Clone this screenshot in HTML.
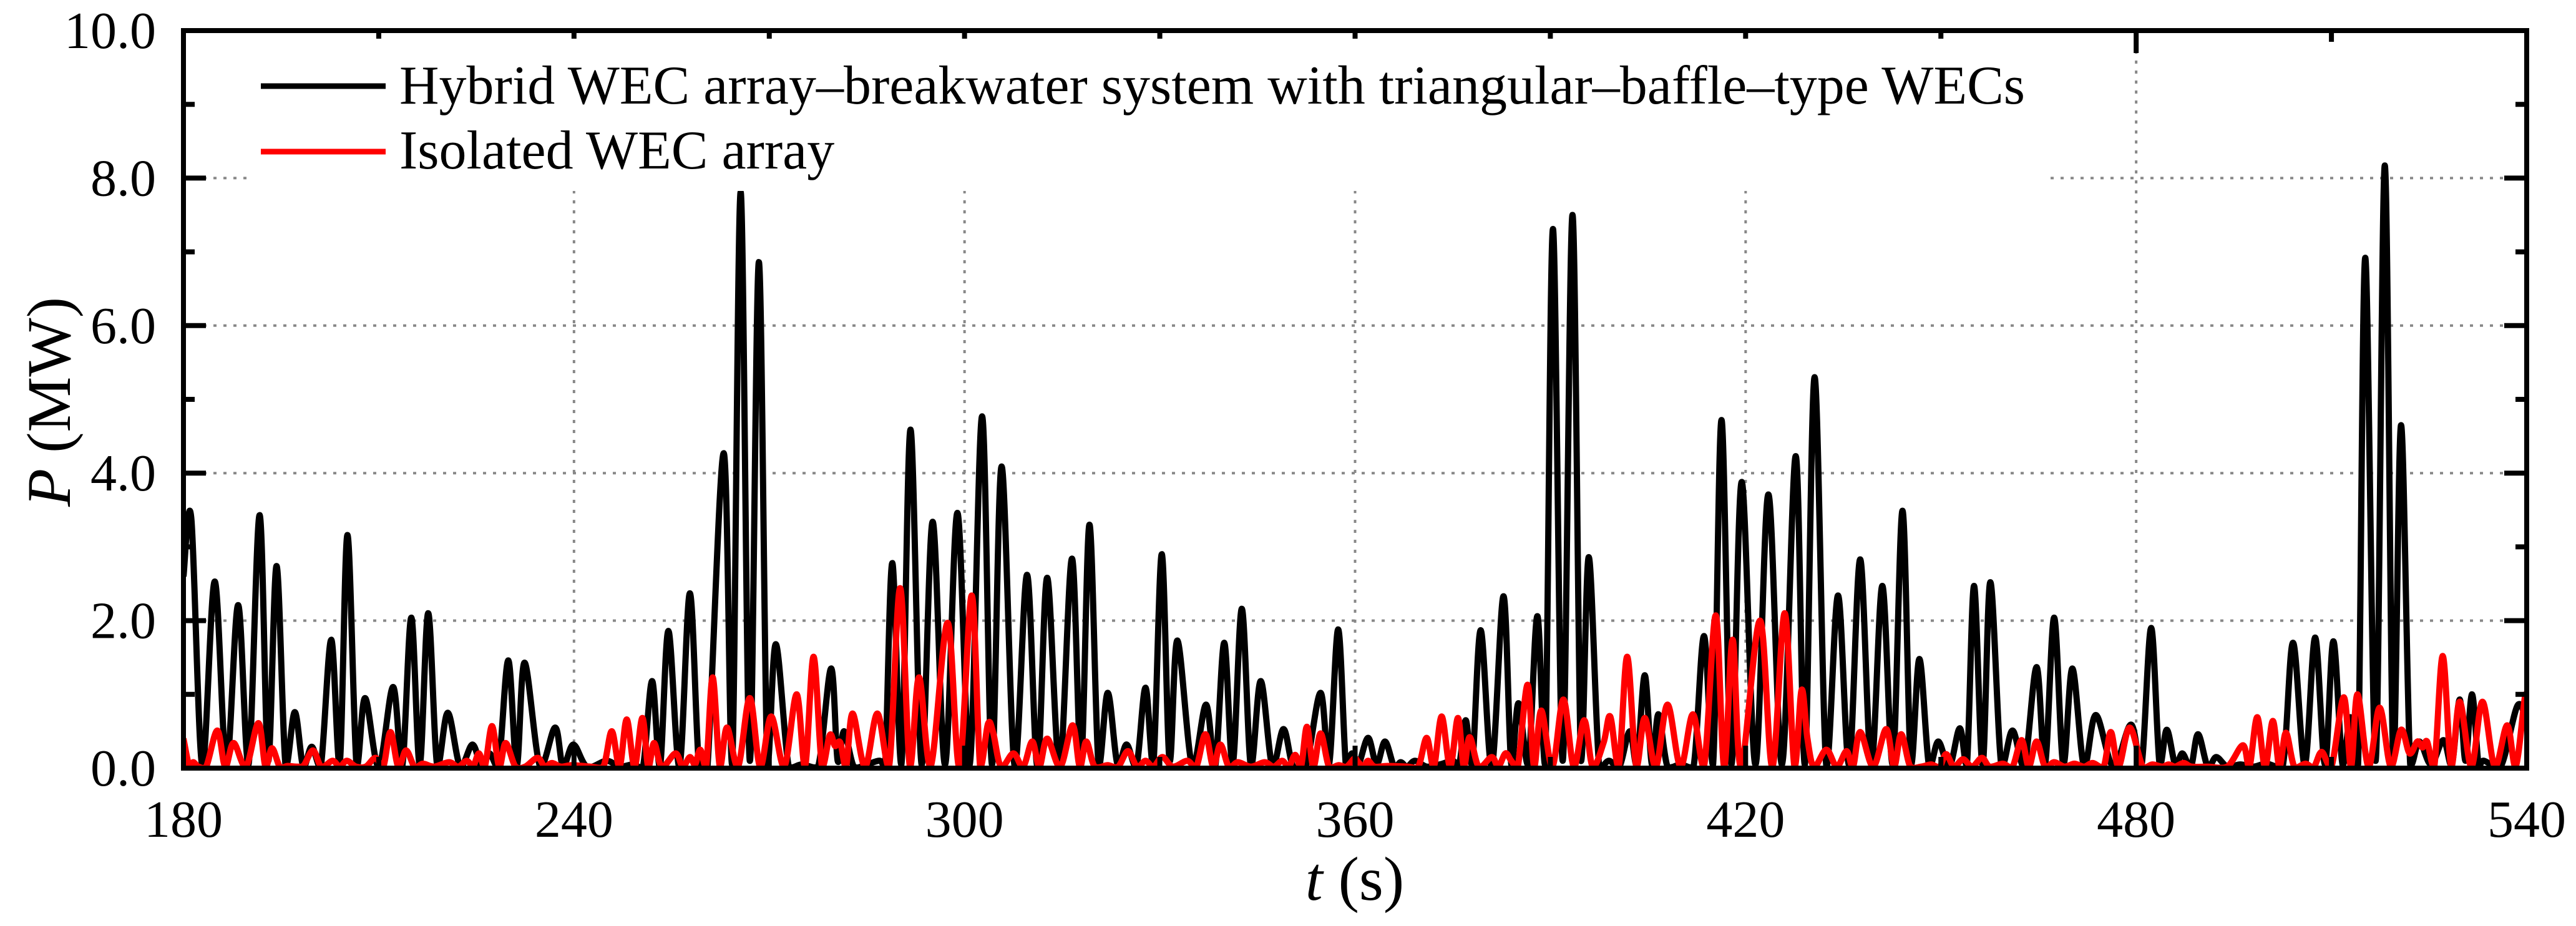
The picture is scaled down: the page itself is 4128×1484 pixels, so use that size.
<!DOCTYPE html>
<html><head><meta charset="utf-8">
<style>
html,body{margin:0;padding:0;background:#fff;}
svg{display:block;}
text{font-family:"Liberation Serif","Times New Roman",serif;fill:#000;}
</style></head>
<body>
<svg id="chart" width="4128" height="1484" viewBox="0 0 4128 1484" xmlns="http://www.w3.org/2000/svg">
<defs><clipPath id="plotclip"><rect x="294" y="49" width="3755" height="1182"/></clipPath></defs>
<g id="grid"></g>
<g id="series" clip-path="url(#plotclip)"></g>
<g id="ticks"></g>
<rect x="398" y="62" width="2882" height="244" fill="#fff"/>
<g>
  <line x1="418" y1="138" x2="618" y2="138" stroke="#000" stroke-width="9"/>
  <text x="640" y="166" font-size="88">Hybrid WEC array–breakwater system with triangular–baffle–type WECs</text>
  <line x1="418" y1="243" x2="618" y2="243" stroke="#f00" stroke-width="9"/>
  <text x="640" y="270" font-size="88">Isolated WEC array</text>
</g>
<rect x="294" y="49" width="3755" height="1182" fill="none" stroke="#000" stroke-width="8"/>
<g id="labels"></g>
<text x="2171" y="1442" font-size="100" text-anchor="middle"><tspan font-style="italic">t</tspan> (s)</text>
<text transform="translate(112,644) rotate(-90)" font-size="100" text-anchor="middle"><tspan font-style="italic">P</tspan> (MW)</text>
</svg>
<script>
const xTicks = [180, 240, 300, 360, 420, 480, 540];
const xMinor = [210, 270, 330, 390, 450, 510];
const yTicks = [0, 2, 4, 6, 8, 10];
const yMinor = [1, 3, 5, 7, 9];
const yTickLabels = ["0.0", "2.0", "4.0", "6.0", "8.0", "10.0"];
const hybridT = [180,181.2,182.9,184.8,186.6,188.4,190,191.7,193,194.3,195.7,197.1,198.4,199.7,201.1,202.7,204,205.2,206.6,207.9,210,212.2,213.6,215,216.3,217.6,219,220.6,222.5,224.4,225.8,227,228.4,229.9,231.2,232.4,234.8,237.1,238.3,239.9,242,245,247,249,250.6,252,253.2,254.5,256.2,257.8,259.2,260.5,263,264.3,265.6,267,268.4,269.7,271,273,275,277.5,279.5,280.5,281.5,283,285,287,287.8,288.9,290.3,291.7,293.4,295.1,297,298.9,300.8,302.7,304.2,305.7,307.7,309.6,311.2,312.7,314.6,316.5,317.9,319.2,320.6,322,323.5,324.9,326.4,327.8,329,330.3,331.5,332.7,335,337.1,338.5,339.9,341.2,342.6,344,345.5,347.3,349,350.5,352.5,354.7,356,357.4,358.6,359.5,360.5,362,363.3,364.6,366,367,368,369.2,371,373,375,376,377,378,379.3,381,382.8,384,385.1,386.6,388,389.2,390.4,391.9,393.4,394.7,395.9,397.5,399,400.6,402.2,403.3,404.5,405.6,406.6,408,410,412,413.6,415,416.3,417.8,419.4,421.5,423.5,425.6,427.7,429.1,430.6,432.4,434.2,435.9,437.6,439.3,441,442.6,444.1,445.4,446.7,448.2,449.6,451.3,452.9,454,455.1,456.4,457.6,459.3,461,462.8,464.7,466,467.4,468.8,470.2,472,473.8,476.5,479.2,480.8,482.3,483.6,484.7,486,487.1,488.4,489.5,491,492.3,494,496,498,500,502.5,504.1,505.9,507.5,509,510.3,511.7,512.9,514.1,515.2,516.8,518.2,519.5,520.7,522.1,523.5,525.3,527.2,528.5,529.7,530.6,531.6,532.6,533.4,536,538.6,540];
const hybridP = [2.6,3.39,0.02,2.53,0.05,2.21,0.05,3.43,0.1,2.74,0.02,0.76,0.02,0.29,0.02,1.74,0.05,3.16,0.02,0.95,0.02,1.1,0.02,2.04,0.05,2.1,0.02,0.75,0.03,0.32,0.02,0.2,0.02,1.46,0.03,1.43,0.02,0.55,0.03,0.32,0.02,0.1,0.02,0.05,0.02,1.18,0.02,1.86,0.02,2.37,0.02,0.02,4.27,0.05,7.81,0.1,6.86,0.05,1.68,0.02,0.05,0.02,1.35,0.1,0.5,0.02,0.05,0.1,0.02,2.78,0.05,4.59,0.05,3.34,0.05,3.46,0.05,4.77,0.05,4.09,0.02,2.62,0.02,2.58,0.02,2.84,0.1,3.3,0.02,1.02,0.05,0.32,0.02,1.09,0.05,2.9,0.1,1.73,0.02,0.86,0.02,1.7,0.05,2.16,0.02,1.18,0.02,0.53,0.02,0.05,1.02,0.05,1.88,0.02,0.2,0.05,0.41,0.05,0.36,0.02,0.08,0.02,0.1,0.02,0.05,0.1,0.05,0.65,0.05,1.87,0.02,2.33,0.05,0.88,0.05,2.06,0.05,7.31,0.1,7.5,0.1,2.86,0.02,0.1,0.02,0.5,0.05,1.26,0.05,0.73,0.02,0.05,0.02,1.79,0.05,4.72,0.05,3.88,0.05,3.71,0.05,4.23,0.05,5.3,0.02,2.34,0.05,2.83,0.05,2.47,0.05,3.49,0.05,1.48,0.02,0.36,0.02,0.54,0.05,2.47,0.05,2.52,0.02,0.51,0.02,1.37,0.05,2.04,0.05,1.35,0.02,0.72,0.02,0.59,0.02,1.9,0.05,0.52,0.05,0.2,0.02,0.46,0.02,0.15,0.02,0.05,0.02,0.06,0.02,1.7,0.05,1.77,0.05,1.72,0.05,0.69,0.05,6.92,0.1,8.17,0.1,4.65,0.05,0.36,0.05,0.38,0.05,0.93,0.1,1.0,0.05,0.1,0.02,0.85,0.6];
const isolatedT = [180,180.9,181.5,182.3,183.5,185.2,186.4,187.7,189.6,191.5,192.6,193.6,194.8,196,197.5,198.5,199.9,201.2,202.9,204,205.1,206.5,208,209.5,210.7,211.8,213,214.2,215.5,216.8,218.5,220.8,222.2,223.5,224.5,225.4,226.3,227.4,228.5,229.5,231,232.5,234.4,235.5,236.6,238,239.7,242.5,244.5,245.8,247,248.1,249.3,250.5,251.4,252.3,253.5,255.6,256.7,257.8,258.6,259.4,260.3,261.3,262.4,263.5,265.2,267,268.6,270.3,272.3,274.2,275.5,276.8,278.1,279.3,280.1,280.9,281.8,282.8,284.7,286.6,288.4,290.1,291.6,293,294.8,297.4,299.2,301.1,302.4,303.6,304.4,305.6,307.5,309,310.4,311.5,312.7,314.7,316.6,317.7,318.7,320,322,323.6,325.1,326.5,327.8,329,330.4,332,334.2,335.6,337,338.2,339.3,340.6,342,344,346.1,347.5,348.8,349.8,350.8,351.7,352.6,353.6,354.7,356,357.5,358.7,359.9,360.5,361.3,362,363,365,368,369.7,371,372.1,373.3,374.6,375.8,376.7,377.6,379,381,382,383.1,384,385,386.5,387.5,388.6,390.3,392,393.6,395.2,396.5,398.2,399.2,400.5,401.8,403.2,404.5,406.2,408,410,411.9,413.6,415.4,416.7,418,419.3,422.2,424.1,426,427.5,428.6,429.5,430.5,432.4,434,435.5,436.5,437.6,439.6,441.6,442.8,443.9,445.3,447,448.5,449.8,450.8,452,453.4,454.8,456.3,457.5,459.5,461,462.4,463.5,464.7,466,467.4,469,470.5,472,473.3,475,476.1,477.3,479,481,482.5,484,485,486,487.3,488.5,491,494,496.4,497.4,498.6,499.8,501,502,503,504.3,506,507.3,508.5,510,511.9,513,514,515.7,517.4,519.1,520.7,522,523.2,524,524.7,525.8,527.1,528.4,529.7,531.5,533.2,535.1,537,538.3,539.7,540];
const isolatedP = [0.4,0.02,0.08,0.02,0.02,0.51,0.02,0.34,0.02,0.61,0.02,0.27,0.02,0.03,0.02,0.04,0.24,0.02,0.1,0.02,0.1,0.02,0.02,0.14,0.02,0.49,0.02,0.24,0.02,0.06,0.02,0.08,0.02,0.1,0.03,0.2,0.02,0.57,0.02,0.34,0.02,0.02,0.14,0.02,0.07,0.02,0.04,0.02,0.02,0.5,0.02,0.66,0.02,0.68,0.02,0.34,0.02,0.2,0.02,0.15,0.05,0.25,0.02,1.23,0.02,0.55,0.02,0.95,0.02,0.7,0.02,1.0,0.02,1.51,0.02,0.45,0.3,0.35,0.02,0.74,0.02,0.74,0.02,2.44,0.02,1.23,0.02,1.97,0.02,2.34,0.02,0.6,0.48,0.02,0.2,0.02,0.36,0.02,0.4,0.02,0.58,0.02,0.36,0.02,0.04,0.02,0.23,0.02,0.1,0.02,0.15,0.02,0.1,0.02,0.46,0.02,0.32,0.02,0.08,0.02,0.08,0.02,0.1,0.02,0.18,0.02,0.56,0.02,0.47,0.02,0.04,0.02,0.13,0.08,0.02,0.1,0.02,0.03,0.02,0.02,0.41,0.02,0.7,0.02,0.68,0.02,0.42,0.02,0.15,0.02,0.2,0.1,0.02,1.13,0.02,0.78,0.02,0.93,0.02,0.65,0.02,0.35,0.7,0.02,1.51,0.02,0.68,0.02,0.86,0.02,0.73,0.02,2.07,0.02,1.74,0.02,2.0,0.02,2.1,0.02,1.06,0.4,0.02,0.25,0.02,0.23,0.02,0.49,0.02,0.53,0.02,0.46,0.02,0.02,0.05,0.02,0.19,0.02,0.12,0.02,0.14,0.02,0.06,0.02,0.38,0.02,0.36,0.02,0.08,0.02,0.06,0.02,0.07,0.02,0.49,0.02,0.55,0.02,0.05,0.02,0.05,0.02,0.07,0.02,0.02,0.02,0.31,0.02,0.69,0.02,0.64,0.02,0.48,0.02,0.06,0.02,0.22,0.02,0.96,0.02,1.0,0.02,0.82,0.02,0.52,0.2,0.36,0.28,0.36,0.02,1.52,0.02,0.9,0.02,0.9,0.02,0.58,0.02,0.95,0.9];

const NS = "http://www.w3.org/2000/svg";
const X0 = 294, X1 = 4049, Y0 = 1231, Y1 = 49;
function xs(t){ return X0 + (t - 180) / 360 * (X1 - X0); }
function ys(p){ return Y0 - p / 10 * (Y0 - Y1); }
function mk(tag, attrs, parent){ const e = document.createElementNS(NS, tag); for (const k in attrs) e.setAttribute(k, attrs[k]); parent.appendChild(e); return e; }

const grid = document.getElementById('grid');
const ticks = document.getElementById('ticks');
const labels = document.getElementById('labels');
const series = document.getElementById('series');

xTicks.forEach(t => {
  if (t > 180 && t < 540) {
    const g = mk('line', {x1: xs(t), x2: xs(t), y1: Y1, y2: Y0, stroke: '#888', 'stroke-width': 4, 'stroke-dasharray': '5 11'}, grid);
    
    
  }
  const a = mk('line', {x1: xs(t), x2: xs(t), y1: Y0, y2: Y0 - 36, stroke: '#000', 'stroke-width': 8}, ticks);
  
  
  const b = mk('line', {x1: xs(t), x2: xs(t), y1: Y1, y2: Y1 + 36, stroke: '#000', 'stroke-width': 8}, ticks);
  
  
  const l = mk('text', {x: xs(t), y: 1341, 'font-size': 84, 'text-anchor': 'middle'}, labels);
  l.textContent = String(t);
  
  
});
xMinor.forEach(t => {
  const a = mk('line', {x1: xs(t), x2: xs(t), y1: Y0, y2: Y0 - 18, stroke: '#000', 'stroke-width': 8}, ticks);
  
  
  const b = mk('line', {x1: xs(t), x2: xs(t), y1: Y1, y2: Y1 + 18, stroke: '#000', 'stroke-width': 8}, ticks);
  
  
});
yTicks.forEach((p, i) => {
  if (p > 0 && p < 10) {
    const g = mk('line', {x1: X0, x2: X1, y1: ys(p), y2: ys(p), stroke: '#888', 'stroke-width': 4, 'stroke-dasharray': '5 11'}, grid);
    
    
  }
  const a = mk('line', {x1: X0, x2: X0 + 36, y1: ys(p), y2: ys(p), stroke: '#000', 'stroke-width': 8}, ticks);
  
  
  const b = mk('line', {x1: X1, x2: X1 - 36, y1: ys(p), y2: ys(p), stroke: '#000', 'stroke-width': 8}, ticks);
  
  
  const l = mk('text', {x: 250, y: ys(p) + 28, 'font-size': 84, 'text-anchor': 'end'}, labels);
  l.textContent = yTickLabels[i];
  
  
});
yMinor.forEach(p => {
  const a = mk('line', {x1: X0, x2: X0 + 18, y1: ys(p), y2: ys(p), stroke: '#000', 'stroke-width': 8}, ticks);
  
  
  const b = mk('line', {x1: X1, x2: X1 - 18, y1: ys(p), y2: ys(p), stroke: '#000', 'stroke-width': 8}, ticks);
  
  
});

function smoothPath(T, P){
  const pts = T.map((t, i) => [xs(t), ys(P[i])]);
  let d = 'M' + pts[0][0].toFixed(1) + ',' + pts[0][1].toFixed(1);
  for (let i = 0; i < pts.length - 1; i++){
    const p0 = pts[Math.max(0, i - 1)], p1 = pts[i], p2 = pts[i + 1], p3 = pts[Math.min(pts.length - 1, i + 2)];
    const k = 1 / 6;
    let c1y = p1[1] + (p2[1] - p0[1]) * k, c2y = p2[1] - (p3[1] - p1[1]) * k;
    c1y = Math.min(c1y, Y0 + 2); c2y = Math.min(c2y, Y0 + 2);
    const c1x = p1[0] + (p2[0] - p0[0]) * k, c2x = p2[0] - (p3[0] - p1[0]) * k;
    d += 'C' + c1x.toFixed(1) + ',' + c1y.toFixed(1) + ' ' + c2x.toFixed(1) + ',' + c2y.toFixed(1) + ' ' + p2[0].toFixed(1) + ',' + p2[1].toFixed(1);
  }
  return d;
}
const hb = mk('path', {d: smoothPath(hybridT, hybridP), fill: 'none', stroke: '#000', 'stroke-width': 10, 'stroke-linejoin': 'round'}, series);


const iso = mk('path', {d: smoothPath(isolatedT, isolatedP), fill: 'none', stroke: '#f00', 'stroke-width': 10, 'stroke-linejoin': 'round'}, series);


</script>
</body></html>
